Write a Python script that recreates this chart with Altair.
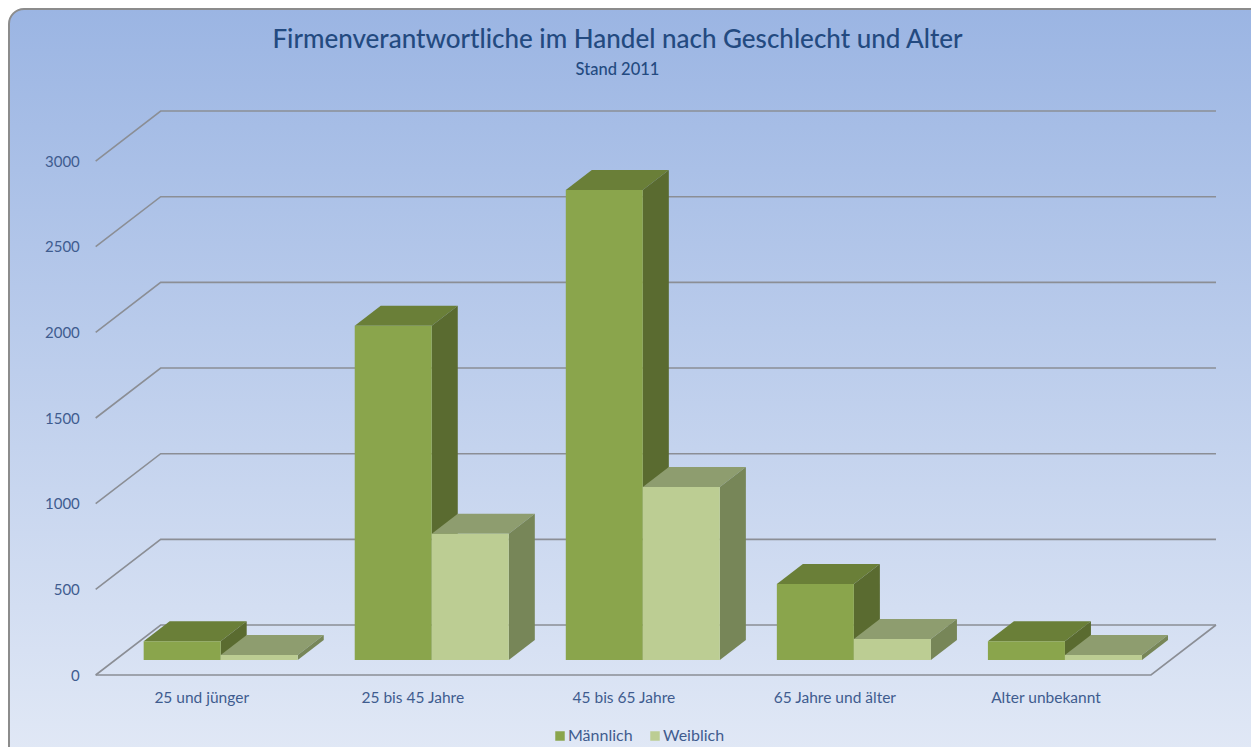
import json
import altair as alt
import pandas as pd

categories = ["25 und jünger", "25 bis 45 Jahre", "45 bis 65 Jahre", "65 Jahre und älter", "Alter unbekannt"]
maennlich = [109, 1951, 2743, 444, 109]
weiblich = [29, 737, 1010, 123, 29]
y_ticks = [0, 500, 1000, 1500, 2000, 2500, 3000]
series_names = ["Männlich", "Weiblich"]

W, H = 1243, 739
DX, DY = 0.308, 291.8      # shift of one full depth unit, in x and y data units
D0, D1 = 0.3, 0.7          # depth of the bar's front and back face
BW = 0.365                 # bar width in category units
PX_PER_VALUE = 0.17133

x_scale = alt.Scale(domain=[-0.9154, -0.9154 + W / 211.06], range=[0, W], nice=False, zero=False)
y_scale = alt.Scale(domain=[(667 - H) / PX_PER_VALUE, 667 / PX_PER_VALUE], range=[H, 0], nice=False, zero=False)

FONT = "Lato"
TEXT = "#3f5c8f"
front = {"Männlich": "#8aa54c", "Weiblich": "#bccd93"}
top = {"Männlich": "#6a7f38", "Weiblich": "#8e9d6f"}
side = {"Männlich": "#5a6b30", "Weiblich": "#778658"}


def px(x, d):
    return x + DX * d


def py(v, d):
    return v + DY * d


# wall and floor lines
grid_rows = []
for v in y_ticks:
    for n, (x, d) in enumerate([(-0.5, 0), (-0.5, 1), (4.5, 1)]):
        grid_rows.append({"id": f"g{v}", "o": n, "x": px(x, d), "y": py(v, d)})
for n, (x, d) in enumerate([(-0.5, 0), (4.5, 0), (4.5, 1)]):
    grid_rows.append({"id": "floor", "o": n, "x": px(x, d), "y": py(0, d)})
grid = pd.DataFrame(grid_rows)

# bar faces
fronts, tops, sides = [], [], []
for sex, vals, off in [("Männlich", maennlich, -1), ("Weiblich", weiblich, 0)]:
    for i, v in enumerate(vals):
        x0, x1 = i + off * BW, i + (off + 1) * BW
        base = py(0, D0)
        fronts.append({"sex": sex, "x": px(x0, D0), "x2": px(x1, D0), "y": base + v, "y2": base})
        key = f"{sex}{i}"
        for d in (D0, D1):
            tops.append({"sex": sex, "id": key, "x": px(x0, d), "x2": px(x1, d), "y": py(v, d)})
            sides.append({"sex": sex, "id": key, "x": px(x1, d), "y": py(v, d), "y2": py(0, d)})
fronts, tops, sides = pd.DataFrame(fronts), pd.DataFrame(tops), pd.DataFrame(sides)

card = alt.Chart(pd.DataFrame({"a": [0]})).mark_rect(
    cornerRadius=15,
    stroke="#8c8c8c",
    strokeWidth=2,
    color=alt.Gradient(
        gradient="linear", x1=0, x2=0, y1=0, y2=1,
        stops=[alt.GradientStop(offset=0, color="#9bb5e3"), alt.GradientStop(offset=1, color="#e2e9f6")],
    ),
).encode(x=alt.value(1), x2=alt.value(W + 20), y=alt.value(1), y2=alt.value(H + 20))

x_axis = alt.Axis(
    values=list(range(len(categories))),
    labelExpr=f"{json.dumps(categories, ensure_ascii=False)}[datum.value]",
    orient="bottom", offset=-57, domain=False, ticks=False, grid=False, title=None, zindex=1,
    labelFont=FONT, labelFontSize=15.5, labelColor=TEXT, labelPadding=0, labelOverlap=False, labelFlush=False,
    labelBaseline="top",
)
y_axis = alt.Axis(
    values=y_ticks, format="d", orient="left", offset=-71.3, domain=False, ticks=False, grid=False, title=None, zindex=1,
    labelFont=FONT, labelFontSize=15, labelColor=TEXT, labelPadding=0, labelOverlap=False, labelFlush=False,
)

X = alt.X("x:Q", scale=x_scale, axis=x_axis)
Y = alt.Y("y:Q", scale=y_scale, axis=y_axis)

grid_layer = alt.Chart(grid).mark_line(color="#8b8e95", strokeWidth=1.6).encode(
    x=X, y=Y, detail="id:N", order="o:Q",
)


def faces(sex):
    t = alt.Chart(tops[tops.sex == sex]).mark_area(orient="horizontal", color=top[sex]).encode(
        x=X, x2="x2:Q", y=Y, detail="id:N",
    )
    s = alt.Chart(sides[sides.sex == sex]).mark_area(color=side[sex]).encode(
        x=X, y=Y, y2="y2:Q", detail="id:N",
    )
    f = alt.Chart(fronts[fronts.sex == sex]).mark_rect().encode(
        x=X, x2="x2:Q", y=Y, y2="y2:Q",
        color=alt.Color(
            "sex:N",
            scale=alt.Scale(domain=series_names, range=[front[n] for n in series_names]),
            legend=alt.Legend(
                orient="none", legendX=544, legendY=720, direction="horizontal", title=None,
                symbolType="square", symbolSize=90, symbolStrokeWidth=0,
                labelFont=FONT, labelFontSize=16, labelColor=TEXT, columnPadding=14, labelOffset=0,
            ),
        ),
    )
    return [t, s, f]


layers = [card, grid_layer] + faces("Männlich") + faces("Weiblich")

chart = alt.layer(*layers).properties(
    width=W, height=H, padding=0,
    autosize=alt.AutoSizeParams(type="none"),
    background="white",
    title=alt.TitleParams(
        text="Firmenverantwortliche im Handel nach Geschlecht und Alter",
        subtitle="Stand 2011",
        anchor="middle", dx=-12, offset=-70,
        font=FONT, fontSize=26, fontWeight=500, color="#234a80",
        subtitleFont=FONT, subtitleFontSize=16.5, subtitleFontWeight=500, subtitleColor="#234a80", subtitlePadding=9,
    ),
).configure_view(stroke=None)

chart.save("out.html", embed_options={"renderer": "svg", "actions": False})
